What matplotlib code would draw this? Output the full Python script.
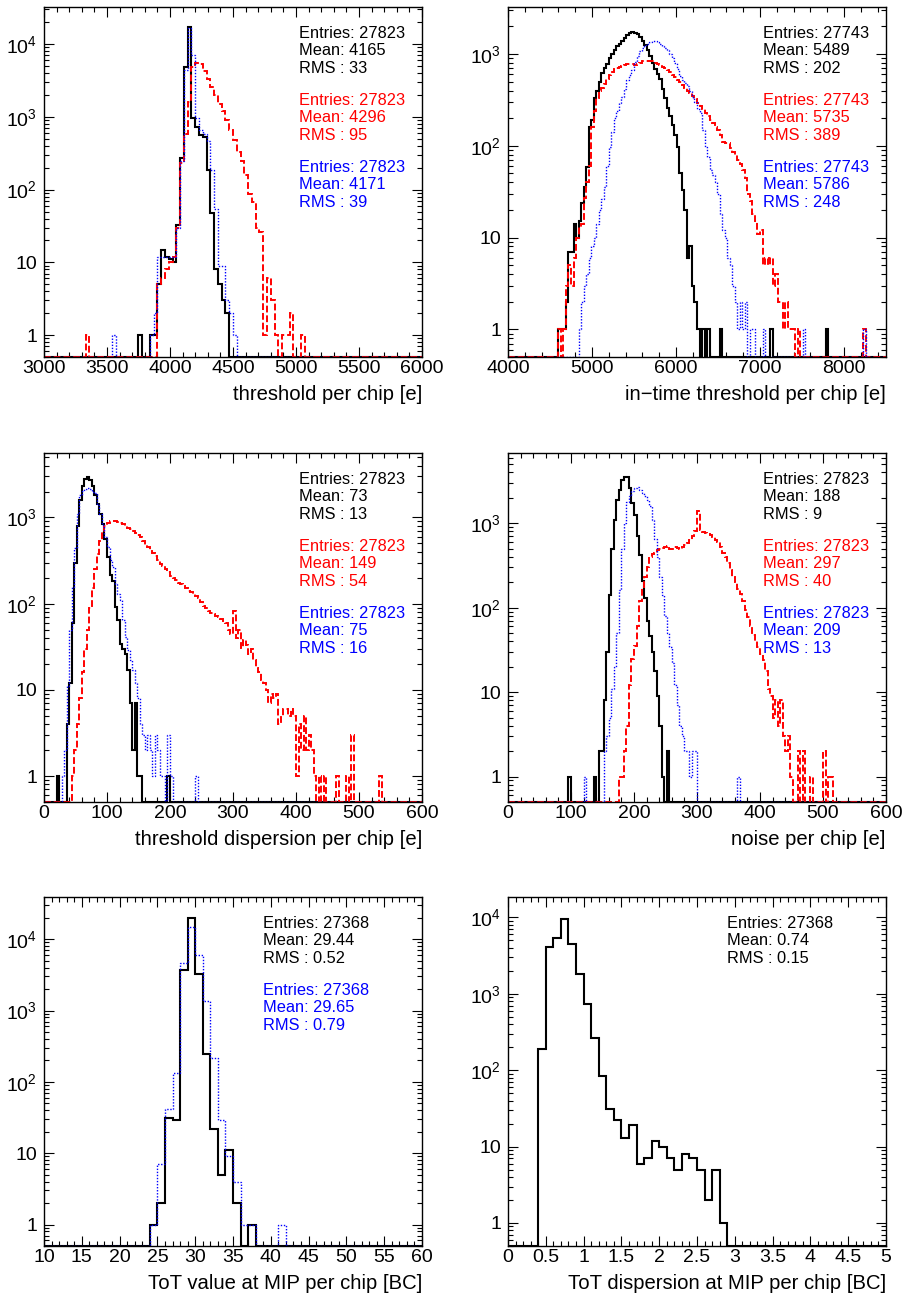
import numpy as np
import matplotlib
matplotlib.use("Agg")
import matplotlib.pyplot as plt
from matplotlib.ticker import MultipleLocator, FixedLocator, LogLocator, FuncFormatter, NullFormatter

plt.rcParams["font.family"] = ["Liberation Sans", "DejaVu Sans"]
plt.rcParams["mathtext.fontset"] = "custom"
plt.rcParams["mathtext.rm"] = "Liberation Sans"
plt.rcParams["mathtext.it"] = "Liberation Sans:italic"
plt.rcParams["mathtext.bf"] = "Liberation Sans:bold"

# --- threshold per chip: 3000-6000, 30 e bins ---
thr_black_start = 3840
thr_black = [1, 1, 5, 15, 12, 11, 10, 33, 268, 4920, 17200, 953, 730, 560, 530, 185, 47, 8, 5, 3, 2]
thr_black_extra = [3750]
thr_red_start = 3900
thr_red = [5, 6, 8, 10, 12, 30, 230, 590, 1600, 4800, 5500, 5300, 4300, 3300, 2600, 2000, 1500, 1200,
           900, 650, 480, 330, 250, 160, 88, 68, 30, 26, 1, 6, 3, 1, 0, 1, 1, 2, 0, 0, 1]
thr_red_extra = [3330]
thr_blue_start = 3840
thr_blue = [1, 2, 12, 12, 12, 12, 12, 30, 250, 4400, 16500, 7100, 950, 660, 590, 470, 185, 55, 9, 9, 3, 2, 1]
thr_blue_extra = [3540]

# --- in-time threshold per chip: 4000-8500, 30 e bins ---
it_black_start = 4600
it_black = [1, 1, 1, 2, 7, 7, 14, 10, 15, 24, 36, 59, 160, 190, 330, 400, 500, 620, 700, 770,
            900, 1000, 1100, 1210, 1300, 1400, 1500, 1600, 1700, 1720, 1700, 1650, 1550, 1400, 1250, 1100, 950, 800, 680, 600,
            530, 420, 330, 260, 210, 170, 130, 98, 50, 33, 20, 6, 8, 3, 2, 1]
it_black_extra = [6310, 6370, 6520, 7120, 7780]
it_red_start = 4600
it_red = [1, 0, 1, 3, 5, 3, 6, 10, 13, 14, 27, 40, 60, 160, 240, 330, 400, 430, 470, 540,
          590, 640, 680, 700, 720, 740, 750, 770, 770, 780, 760, 780, 800, 830, 840, 840, 830, 830, 800, 780,
          760, 730, 700, 670, 630, 590, 560, 520, 490, 460, 430, 400, 375, 350, 320, 290, 270, 250, 230, 210,
          190, 175, 160, 150, 130, 110, 106, 106, 95, 85, 80, 70, 64, 55, 45, 30, 25, 18, 15, 11,
          12, 5, 6, 5, 6, 3, 4, 2, 2, 1, 2, 1, 1, 1, 0, 1]
it_red_extra = [8230]
it_blue_start = 4840
it_blue = [1, 2, 3, 4, 6, 8, 10, 14, 20, 26, 36, 60, 98, 140, 200, 240, 290, 340, 420, 520,
           590, 670, 820, 950, 1080, 1150, 1250, 1300, 1350, 1380, 1380, 1350, 1300, 1230, 1150, 1100, 1000, 900, 800, 680,
           580, 520, 480, 450, 400, 340, 300, 250, 227, 150, 98, 75, 54, 48, 40, 30, 18, 12, 10, 6,
           5, 3, 2, 1, 2, 1, 2, 0, 1]
it_blue_extra = [6910, 7030, 7510, 8230]

# --- threshold dispersion per chip: 0-600, 4 e bins ---
disp_black_start = 36
disp_black = [4, 12, 60, 300, 800, 1600, 2300, 2800, 2950, 2700, 2300, 1800, 1450, 1100, 850, 560, 350, 215, 185, 91,
              64, 34, 30, 26, 17, 7, 2, 7, 1, 1]
disp_black_extra = [20, 196]
disp_red_start = 44
disp_red = [1, 2, 4, 8, 16, 30, 50, 90, 150, 250, 380, 530, 700, 800, 860, 900, 910, 910, 890, 870,
            830, 790, 760, 730, 700, 660, 630, 600, 540, 480, 450, 420, 390, 360, 320, 290, 270, 250, 230, 210,
            200, 190, 175, 168, 160, 150, 140, 135, 128, 122, 117, 105, 95, 90, 82, 78, 75, 72, 70, 66,
            63, 60, 50, 45, 82, 40, 50, 31, 38, 33, 26, 30, 22, 18, 16, 13, 12, 10, 7, 9,
            8, 9, 4, 5, 6, 6, 5, 6, 5, 1, 4, 2, 5, 2, 3, 2, 1, 0, 1, 0, 1]
disp_red_extra = [464, 480, 488, 532]
disp_red_extra_n = [1, 1, 3, 1]
disp_blue_start = 28
disp_blue = [1, 2, 11, 49, 156, 440, 1100, 1800, 2050, 2150, 2200, 2150, 2000, 1900, 1400, 1100, 810, 600, 460, 320,
             265, 170, 130, 110, 64, 41, 29, 22, 17, 12, 8, 4, 3, 2, 3, 2, 1, 3, 2, 1, 1, 0, 3, 1]
disp_blue_extra = [240]

# --- noise per chip: 0-600, 4 e bins ---
noise_black_start = 144
noise_black = [2, 2, 8, 30, 140, 500, 1100, 1900, 2500, 3300, 3550, 3500, 2600, 1750, 1250, 700, 420, 210, 130, 70,
               46, 30, 18, 9, 4, 1, 0, 2]
noise_black_extra = [96, 136]
noise_red_start = 176
noise_red = [1, 1, 2, 4, 12, 25, 35, 60, 120, 170, 230, 300, 400, 430, 450, 480, 500, 510, 520, 540,
             500, 500, 520, 510, 500, 530, 550, 590, 630, 700, 800, 1400, 830, 780, 760, 740, 720, 680, 640, 600,
             525, 450, 400, 340, 280, 230, 200, 165, 147, 120, 93, 78, 60, 47, 40, 34, 28, 24, 18, 11,
             9, 5, 8, 4, 8, 3, 2, 3, 1, 0, 0, 2, 0, 2, 0, 0, 1]
noise_red_extra = [500, 508, 512]
noise_red_extra_n = [2, 1, 1]
noise_blue_start = 152
noise_blue = [2, 3, 5, 11, 20, 50, 160, 500, 1000, 1800, 2100, 2400, 2600, 2700, 2500, 2300, 2100, 1900, 1600, 1100,
              650, 400, 230, 140, 80, 50, 34, 22, 12, 7, 4, 3, 2, 2, 1, 2, 2]
noise_blue_extra = [120, 364]

# --- ToT value at MIP: 10-60, 1 BC bins ---
tot_black_start = 24
tot_black = [1, 2, 31, 29, 3720, 20100, 3200, 242, 22, 5, 11, 2, 0, 1]
tot_blue_start = 24
tot_blue = [1, 7, 42, 135, 4560, 14900, 5970, 1350, 215, 29, 9, 4, 1, 1]
tot_blue_extra = [41]

# --- ToT dispersion at MIP: 0-5, 0.1 BC bins ---
totd_black_start = 0.4
totd_black = [190, 4020, 5320, 9420, 4490, 1806, 733, 261, 84, 31, 22, 13, 19, 6, 7, 12, 10, 7, 5, 8,
              7, 5, 2, 5, 1]


def hist(lo, width, nbins, start, counts, extra=(), extra_n=None):
    h = np.zeros(nbins)
    i0 = int(round((start - lo) / width))
    h[i0:i0 + len(counts)] = counts
    if extra_n is None:
        extra_n = [1] * len(extra)
    for b, c in zip(extra, extra_n):
        h[int(round((b - lo) / width))] = c
    return h


W, H = 904, 1295
fig = plt.figure(figsize=(W / 100, H / 100), dpi=100)

STYLE = {"k": dict(color="black", lw=1.5, ls="-", zorder=2),
         "r": dict(color="red", lw=1.4, ls=(0, (3.5, 1.5)), zorder=2.1),
         "b": dict(color="blue", lw=1.0, ls=(0, (1, 1.2)), zorder=2.2)}
COLORS = {"k": "black", "r": "red", "b": "blue"}


def ylab(v, pos):
    k = int(round(np.log10(v)))
    if k == 0:
        return "1"
    if k == 1:
        return "10"
    return r"$\mathregular{10^{%d}}$" % k


def panel(box, lo, hi, width, ymax, series, xmaj, xmin, title, stats, stat_x):
    x0, y0, x1, y1 = box
    ax = fig.add_axes([x0 / W, 1 - y1 / H, (x1 - x0) / W, (y1 - y0) / H])
    nb = int(round((hi - lo) / width))
    edges = lo + width * np.arange(nb + 1)
    for key, start, counts, extra, extra_n in series:
        h = hist(lo, width, nb, start, counts, extra, extra_n)
        ax.stairs(np.clip(h, 0.5, None), edges, baseline=None, **STYLE[key])

    ax.set_xlim(lo, hi)
    ax.set_yscale("log")
    ax.set_ylim(0.5, ymax)
    ax.xaxis.set_major_locator(MultipleLocator(xmaj))
    ax.xaxis.set_minor_locator(MultipleLocator(xmin))
    ax.xaxis.set_major_formatter(FuncFormatter(lambda v, p: f"{v:g}"))
    ax.yaxis.set_major_locator(FixedLocator(10.0 ** np.arange(0, int(np.log10(ymax)) + 1)))
    ax.yaxis.set_minor_locator(LogLocator(10, subs=np.arange(2, 10), numticks=30))
    ax.yaxis.set_minor_formatter(NullFormatter())
    ax.yaxis.set_major_formatter(FuncFormatter(ylab))
    ax.tick_params(which="both", direction="in", top=True, right=True, width=0.8)
    ax.tick_params(which="major", length=7.5)
    ax.tick_params(which="minor", length=3.8)
    ax.tick_params(axis="x", which="major", labelsize=14, pad=2)
    ax.tick_params(axis="y", which="major", labelsize=14, pad=5)
    for sp in ax.spines.values():
        sp.set_linewidth(1.0)

    ax.annotate(title, xy=(1, 0), xycoords="axes fraction", xytext=(0, -43 * 0.72),
                textcoords="offset points", ha="right", va="baseline", fontsize=14.6)

    wpx, hpx = x1 - x0, y1 - y0
    for g, (key, entries, mean, rms) in enumerate(stats):
        lines = [f"Entries: {entries}", f"Mean: {mean}", f"RMS : {rms}"]
        for j, s in enumerate(lines):
            off = 30.7 + 67 * g + 17.6 * j
            ax.text(stat_x / wpx, 1 - off / hpx, s, transform=ax.transAxes,
                    ha="left", va="baseline", fontsize=11.8, color=COLORS[key])
    return ax


panel((44, 7, 422, 357), 3000, 6000, 30, 32400,
      [("k", thr_black_start, thr_black, thr_black_extra, None),
       ("r", thr_red_start, thr_red, thr_red_extra, None),
       ("b", thr_blue_start, thr_blue, thr_blue_extra, None)],
      500, 100, "threshold per chip [e]",
      [("k", 27823, 4165, 33), ("r", 27823, 4296, 95), ("b", 27823, 4171, 39)], 255)

panel((508, 7, 886, 357), 4000, 8500, 30, 3250,
      [("k", it_black_start, it_black, it_black_extra, None),
       ("r", it_red_start, it_red, it_red_extra, None),
       ("b", it_blue_start, it_blue, it_blue_extra, None)],
      1000, 200, "in\u2212time threshold per chip [e]",
      [("k", 27743, 5489, 202), ("r", 27743, 5735, 389), ("b", 27743, 5786, 248)], 255)

panel((44, 453, 422, 802), 0, 600, 4, 5600,
      [("k", disp_black_start, disp_black, disp_black_extra, None),
       ("r", disp_red_start, disp_red, disp_red_extra, disp_red_extra_n),
       ("b", disp_blue_start, disp_blue, disp_blue_extra, None)],
      100, 20, "threshold dispersion per chip [e]",
      [("k", 27823, 73, 13), ("r", 27823, 149, 54), ("b", 27823, 75, 16)], 255)

panel((508, 453, 886, 802), 0, 600, 4, 6800,
      [("k", noise_black_start, noise_black, noise_black_extra, None),
       ("r", noise_red_start, noise_red, noise_red_extra, noise_red_extra_n),
       ("b", noise_blue_start, noise_blue, noise_blue_extra, None)],
      100, 20, "noise per chip [e]",
      [("k", 27823, 188, 9), ("r", 27823, 297, 40), ("b", 27823, 209, 13)], 255)

panel((44, 897, 422, 1246), 10, 60, 1, 39000,
      [("k", tot_black_start, tot_black, [], None),
       ("b", tot_blue_start, tot_blue, tot_blue_extra, None)],
      5, 1, "ToT value at MIP per chip [BC]",
      [("k", 27368, "29.44", "0.52"), ("b", 27368, "29.65", "0.79")], 219)

panel((508, 897, 886, 1246), 0, 5, 0.1, 18400,
      [("k", totd_black_start, totd_black, [], None)],
      0.5, 0.1, "ToT dispersion at MIP per chip [BC]",
      [("k", 27368, "0.74", "0.15")], 219)

fig.savefig("out.png", dpi=100)
